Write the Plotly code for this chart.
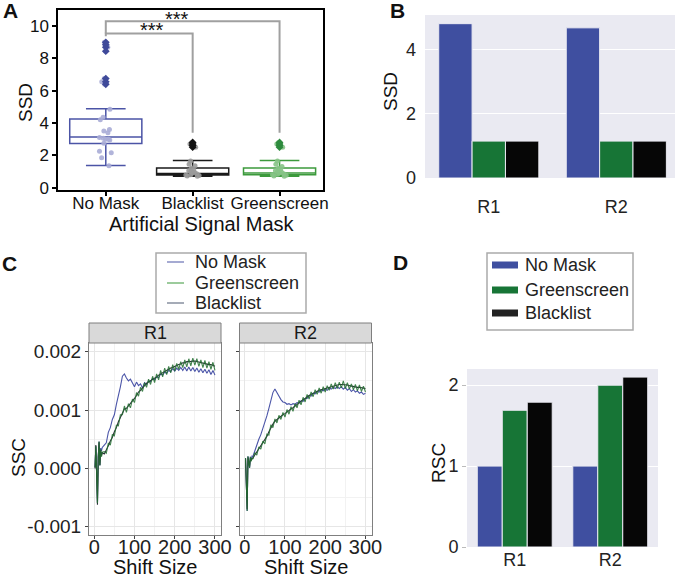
import numpy as np
import plotly.graph_objects as go

FONT = "Liberation Sans, Arial, sans-serif"
W, H = 675, 580

# ---------------- Panel A data ----------------
A_CATS = ["No Mask", "Blacklist", "Greenscreen"]
BOX_Q1 = [2.73, 0.78, 0.80]
BOX_MED = [3.14, 0.87, 0.90]
BOX_Q3 = [4.25, 1.22, 1.22]
BOX_LO = [1.37, 0.70, 0.70]
BOX_HI = [4.89, 1.68, 1.68]
NOMASK_PTS = [1.35, 1.85, 2.15, 2.25, 2.75, 2.95, 3.0, 3.0, 3.05, 3.1, 3.4, 3.5, 3.6,
              4.2, 4.35, 4.85, 6.4, 6.55, 6.75, 8.45, 8.7, 8.85, 9.0]
BL_PTS = [0.7, 0.72, 0.75, 0.78, 0.8, 0.85, 0.9, 0.95, 1.0, 1.05, 1.1, 1.2, 1.35, 1.45,
          1.65, 2.5, 2.6, 2.7, 2.8]
GS_PTS = [0.7, 0.72, 0.76, 0.8, 0.82, 0.86, 0.9, 0.95, 1.0, 1.05, 1.12, 1.2, 1.3, 1.45,
          1.65, 2.5, 2.6, 2.7, 2.8]
NOMASK_OUT = [6.4, 6.55, 6.75, 8.45, 8.7, 8.85, 9.0]
BL_OUT = [2.5, 2.6, 2.7, 2.8]
GS_OUT = [2.5, 2.6, 2.7, 2.8]
SIG_INNER_Y = [9.38, 9.55, 9.55, 3.4]
SIG_OUTER_Y = [9.55, 10.31, 10.31, 3.4]

# ---------------- Panel B / D data ----------------
REPS = ["R1", "R2"]
SSD_NOMASK = [4.81, 4.68]
SSD_GREEN = [1.15, 1.15]
SSD_BLACK = [1.15, 1.15]
RSC_NOMASK = [1.0, 1.0]
RSC_GREEN = [1.69, 2.0]
RSC_BLACK = [1.79, 2.10]

# ---------------- Panel C data (SSC in units of 1e-3) ----------------
SHIFT = [2, 4, 6, 8, 10, 12, 14, 16, 18, 20, 25, 30, 35, 40, 45, 50, 55, 60, 65, 70, 75, 80,
         85, 90, 95, 100, 105, 110, 115, 120, 125, 130, 135, 140, 145, 150, 155, 160, 165,
         170, 175, 180, 185, 190, 195, 200, 205, 210, 215, 220, 225, 230, 235, 240, 245,
         250, 255, 260, 265, 270, 275, 280, 285, 290, 295, 300]

R1_GREEN = [0.02, 0.38, -0.10, -0.59, 0.20, 0.46, 0.05, 0.33, 0.20, 0.28,
            0.29, 0.26, 0.43, 0.40, 0.58, 0.56, 0.74, 0.73, 0.92, 0.92, 1.07, 0.96,
            1.11, 1.04, 1.19, 1.13, 1.30, 1.24, 1.39, 1.32, 1.47, 1.39, 1.53, 1.44,
            1.58, 1.47, 1.62, 1.52, 1.68, 1.57, 1.72, 1.61, 1.75, 1.64, 1.78, 1.67,
            1.80, 1.70, 1.83, 1.73, 1.86, 1.74, 1.88, 1.76, 1.89, 1.77, 1.88, 1.75,
            1.86, 1.73, 1.85, 1.72, 1.83, 1.70, 1.82, 1.68]
R1_BLACK = [0.00, 0.40, -0.12, -0.62, 0.18, 0.45, 0.06, 0.31, 0.22, 0.27,
            0.25, 0.31, 0.39, 0.47, 0.53, 0.63, 0.70, 0.80, 0.88, 0.97, 1.02, 1.03,
            1.07, 1.11, 1.15, 1.20, 1.25, 1.31, 1.34, 1.39, 1.42, 1.46, 1.48, 1.51,
            1.53, 1.55, 1.57, 1.60, 1.62, 1.65, 1.67, 1.69, 1.70, 1.72, 1.73, 1.75,
            1.76, 1.78, 1.79, 1.81, 1.81, 1.83, 1.83, 1.84, 1.84, 1.84, 1.83, 1.83,
            1.81, 1.81, 1.80, 1.79, 1.78, 1.78, 1.76, 1.75]
R1_NOMASK = [0.02, 0.38, -0.10, -0.59, 0.20, 0.46, 0.05, 0.35, 0.30, 0.36,
             0.40, 0.44, 0.62, 0.70, 0.84, 0.92, 1.10, 1.24, 1.40, 1.58, 1.62, 1.55,
             1.50, 1.53, 1.45, 1.40, 1.48, 1.42, 1.45, 1.38, 1.47, 1.44, 1.50, 1.49,
             1.54, 1.52, 1.57, 1.56, 1.62, 1.60, 1.65, 1.63, 1.68, 1.66, 1.71, 1.67,
             1.72, 1.68, 1.73, 1.68, 1.74, 1.67, 1.74, 1.67, 1.73, 1.66, 1.72, 1.65,
             1.71, 1.64, 1.70, 1.63, 1.69, 1.61, 1.68, 1.60]

R2_GREEN = [0.18, -0.30, -0.73, 0.21, 0.10, 0.01, 0.20, 0.12, 0.18, 0.16,
            0.27, 0.23, 0.37, 0.33, 0.47, 0.42, 0.59, 0.57, 0.75, 0.70, 0.85, 0.78,
            0.91, 0.84, 0.96, 0.88, 1.01, 0.93, 1.06, 0.98, 1.11, 1.04, 1.17, 1.09,
            1.22, 1.14, 1.27, 1.19, 1.31, 1.23, 1.35, 1.27, 1.38, 1.29, 1.40, 1.31,
            1.42, 1.34, 1.45, 1.36, 1.47, 1.37, 1.48, 1.38, 1.50, 1.37, 1.47, 1.36,
            1.45, 1.35, 1.44, 1.33, 1.43, 1.32, 1.41, 1.31]
R2_BLACK = [0.16, -0.28, -0.70, 0.19, 0.12, 0.03, 0.18, 0.14, 0.17, 0.17,
            0.23, 0.28, 0.33, 0.39, 0.43, 0.48, 0.55, 0.63, 0.71, 0.76, 0.81, 0.84,
            0.87, 0.90, 0.92, 0.94, 0.97, 0.99, 1.02, 1.04, 1.07, 1.10, 1.13, 1.15,
            1.18, 1.20, 1.23, 1.25, 1.27, 1.29, 1.31, 1.33, 1.34, 1.35, 1.36, 1.37,
            1.38, 1.40, 1.41, 1.42, 1.43, 1.43, 1.44, 1.44, 1.44, 1.43, 1.43, 1.42,
            1.41, 1.41, 1.40, 1.39, 1.39, 1.38, 1.37, 1.37]
R2_NOMASK = [0.18, -0.30, -0.73, 0.21, 0.10, 0.01, 0.20, 0.14, 0.21, 0.20,
             0.30, 0.42, 0.50, 0.58, 0.68, 0.78, 0.90, 1.03, 1.16, 1.30, 1.36, 1.30,
             1.22, 1.18, 1.14, 1.13, 1.10, 1.11, 1.09, 1.11, 1.10, 1.13, 1.12, 1.16,
             1.15, 1.20, 1.20, 1.25, 1.24, 1.29, 1.28, 1.32, 1.31, 1.35, 1.33, 1.36,
             1.34, 1.38, 1.36, 1.39, 1.37, 1.40, 1.37, 1.40, 1.36, 1.39, 1.34, 1.37,
             1.32, 1.35, 1.31, 1.33, 1.29, 1.31, 1.27, 1.29]

SSC_SCALE = 1e-3

LEGEND_NAMES = ["No Mask", "Greenscreen", "Blacklist"]

# ---------------- colours ----------------
C_BLUE = "#3f4fa0"
C_GREEN = "#177536"
C_BLACK = "#060606"
A_LINE = {"No Mask": "#4b54a6", "Blacklist": "#1a1a1a", "Greenscreen": "#3c9a3c"}
A_PTS = {"No Mask": "#a9acd6", "Blacklist": "#9a9a9a", "Greenscreen": "#86c386"}
A_OUT = {"No Mask": "#3f4a9a", "Blacklist": "#111111", "Greenscreen": "#2e8b3e"}


def px(x):
    return x / W


def py(y):
    return 1 - y / H


fig = go.Figure()

# ---------------- Panel A ----------------
pts_map = {"No Mask": NOMASK_PTS, "Blacklist": BL_PTS, "Greenscreen": GS_PTS}
out_map = {"No Mask": NOMASK_OUT, "Blacklist": BL_OUT, "Greenscreen": GS_OUT}
for i, cat in enumerate(A_CATS):
    fig.add_trace(go.Box(
        x=[cat], q1=[BOX_Q1[i]], median=[BOX_MED[i]], q3=[BOX_Q3[i]],
        lowerfence=[BOX_LO[i]], upperfence=[BOX_HI[i]],
        boxpoints=False, fillcolor="white", width=0.83, whiskerwidth=0.55,
        line=dict(color=A_LINE[cat], width=1.5),
        xaxis="x", yaxis="y", showlegend=False, hoverinfo="skip"))
for cat in A_CATS:
    vals = pts_map[cat]
    fig.add_trace(go.Box(
        x=[cat] * len(vals), y=vals, boxpoints="all", jitter=0.25, pointpos=0,
        width=0.83, fillcolor="rgba(0,0,0,0)",
        line=dict(color="rgba(0,0,0,0)", width=0),
        marker=dict(color=A_PTS[cat], size=5, opacity=0.9),
        xaxis="x", yaxis="y", showlegend=False, hoverinfo="skip"))
for cat in A_CATS:
    vals = out_map[cat]
    fig.add_trace(go.Scatter(
        x=[cat] * len(vals), y=vals, mode="markers",
        marker=dict(symbol="diamond", size=6, color=A_OUT[cat]),
        xaxis="x", yaxis="y", showlegend=False, hoverinfo="skip"))
fig.add_trace(go.Scatter(
    x=["No Mask", "No Mask", "Blacklist", "Blacklist"], y=SIG_INNER_Y, mode="lines",
    line=dict(color="#a0a0a0", width=2), xaxis="x", yaxis="y", showlegend=False))
fig.add_trace(go.Scatter(
    x=["No Mask", "No Mask", "Greenscreen", "Greenscreen"], y=SIG_OUTER_Y, mode="lines",
    line=dict(color="#a0a0a0", width=2), xaxis="x", yaxis="y", showlegend=False))

# ---------------- Panel B ----------------
for vals, col in [(SSD_NOMASK, C_BLUE), (SSD_GREEN, C_GREEN), (SSD_BLACK, C_BLACK)]:
    fig.add_trace(go.Bar(x=REPS, y=vals, marker=dict(color=col, line=dict(color="#eaeaf2", width=1)),
                         xaxis="x2", yaxis="y2", showlegend=False))

# ---------------- Panel C ----------------
shift = np.array(SHIFT)
series = [
    ("No Mask", "#4b55a8", R1_NOMASK, R2_NOMASK),
    ("Blacklist", "#2b3038", R1_BLACK, R2_BLACK),
    ("Greenscreen", "rgba(34,110,48,0.85)", R1_GREEN, R2_GREEN),
]
for name, col, r1, r2 in series:
    fig.add_trace(go.Scatter(x=shift, y=np.array(r1) * SSC_SCALE, mode="lines", name=name,
                             line=dict(color=col, width=1.1), xaxis="x3", yaxis="y3",
                             showlegend=False))
    fig.add_trace(go.Scatter(x=shift, y=np.array(r2) * SSC_SCALE, mode="lines", name=name,
                             line=dict(color=col, width=1.1), xaxis="x4", yaxis="y4",
                             showlegend=False))

# ---------------- Panel D ----------------
for vals, col in [(RSC_NOMASK, C_BLUE), (RSC_GREEN, C_GREEN), (RSC_BLACK, C_BLACK)]:
    fig.add_trace(go.Bar(x=REPS, y=vals, marker=dict(color=col, line=dict(color="#eaeaf2", width=1)),
                         xaxis="x5", yaxis="y5", showlegend=False))

# ---------------- Layout ----------------
tickA = dict(family=FONT, size=17, color="#111")
c_grid = dict(showgrid=True, gridcolor="#e6e6e6", gridwidth=1)
lay = dict(
    width=W, height=H, margin=dict(l=0, r=0, t=0, b=0, pad=0, autoexpand=False),
    paper_bgcolor="white", plot_bgcolor="white",
    font=dict(family=FONT, color="#111"), showlegend=False,
    barmode="group", bargap=0.215, bargroupgap=0, boxmode="overlay",
    xaxis=dict(domain=[px(58), px(323)], type="category", categoryorder="array",
               categoryarray=A_CATS, range=[-0.55, 2.5], showline=True, mirror=True,
               linecolor="black", linewidth=1.5, ticks="outside", ticklen=4, tickwidth=1.5,
               tickcolor="black", tickangle=0, automargin=False, ticklabelstandoff=-7,
               tickfont=dict(family=FONT, size=17, color="#111"),
               showgrid=False, zeroline=False, anchor="y"),
    yaxis=dict(domain=[py(190), py(10)], range=[-0.15, 11.0], tickvals=[0, 2, 4, 6, 8, 10],
               showline=True, mirror=True, linecolor="black", linewidth=1.5, ticks="outside",
               ticklen=4, tickwidth=1.5, tickcolor="black", tickfont=tickA, automargin=False,
               showgrid=False, zeroline=False, anchor="x"),
    xaxis2=dict(domain=[px(425), 1.0], range=[-0.5, 1.46], showgrid=False, ticks="",
                showline=False, zeroline=False, tickfont=dict(family=FONT, size=18, color="#222"),
                ticklabelstandoff=16, tickangle=0, automargin=False, anchor="y2"),
    yaxis2=dict(domain=[py(178), py(15)], range=[0, 5.08], tickvals=[0, 2, 4],
                showgrid=True, gridcolor="white", gridwidth=1.3, zeroline=False, ticks="",
                showline=False, tickfont=dict(family=FONT, size=18, color="#222"),
                ticklabelstandoff=8, automargin=False, anchor="x2"),
    xaxis3=dict(domain=[px(89), px(221)], range=[-13, 315], tickvals=[0, 100, 200, 300],
                showline=True, mirror=True, linecolor="#7f7f7f", linewidth=1,
                ticks="outside", ticklen=3, tickcolor="#444", tickangle=0, automargin=False,
                ticklabelstandoff=-9,
                tickfont=dict(family=FONT, size=20, color="#222"),
                minor=dict(dtick=50, tick0=0, showgrid=True, gridcolor="#f2f2f2", ticks=""),
                zeroline=False, anchor="y3", **c_grid),
    yaxis3=dict(domain=[py(535), py(343)], range=[-0.00114, 0.00215],
                tickvals=[-0.001, 0, 0.001, 0.002], ticktext=["-0.001", "0.000", "0.001", "0.002"],
                showline=True, mirror=True, linecolor="#7f7f7f", linewidth=1,
                ticks="outside", ticklen=3, tickcolor="#444", automargin=False,
                tickfont=dict(family=FONT, size=19, color="#222"),
                minor=dict(dtick=0.0005, tick0=0, showgrid=True, gridcolor="#f2f2f2", ticks=""),
                zeroline=False, anchor="x3", **c_grid),
    xaxis4=dict(domain=[px(239.5), px(371.5)], range=[-13, 315], tickvals=[0, 100, 200, 300],
                showline=True, mirror=True, linecolor="#7f7f7f", linewidth=1,
                ticks="outside", ticklen=3, tickcolor="#444", tickangle=0, automargin=False,
                ticklabelstandoff=-9,
                tickfont=dict(family=FONT, size=20, color="#222"),
                minor=dict(dtick=50, tick0=0, showgrid=True, gridcolor="#f2f2f2", ticks=""),
                zeroline=False, anchor="y4", **c_grid),
    yaxis4=dict(domain=[py(535), py(343)], range=[-0.00114, 0.00215],
                tickvals=[-0.001, 0, 0.001, 0.002], showticklabels=False,
                showline=True, mirror=True, linecolor="#7f7f7f", linewidth=1,
                ticks="outside", ticklen=3, tickcolor="#444", automargin=False,
                minor=dict(dtick=0.0005, tick0=0, showgrid=True, gridcolor="#f2f2f2", ticks=""),
                zeroline=False, anchor="x4", **c_grid),
    xaxis5=dict(domain=[px(467), px(658)], range=[-0.5, 1.5], showgrid=False, ticks="",
                showline=False, zeroline=False, tickfont=dict(family=FONT, size=18, color="#222"),
                ticklabelstandoff=0, tickangle=0, automargin=False, anchor="y5"),
    yaxis5=dict(domain=[py(547), py(369)], range=[0, 2.2], tickvals=[0, 1, 2],
                showgrid=True, gridcolor="white", gridwidth=1.3, zeroline=False,
                ticks="outside", ticklen=4, tickcolor="#bbbbbb", showline=False, automargin=False,
                tickfont=dict(family=FONT, size=18, color="#222"), anchor="x5"),
)
fig.update_layout(**lay)

shapes = [
    dict(type="rect", xref="x2 domain", yref="y2 domain", x0=0, x1=1, y0=0, y1=1,
         fillcolor="#eaeaf2", line=dict(width=0), layer="below"),
    dict(type="rect", xref="x5 domain", yref="y5 domain", x0=0, x1=1, y0=0, y1=1,
         fillcolor="#eaeaf2", line=dict(width=0), layer="below"),
    dict(type="rect", xref="paper", yref="paper", x0=px(89), x1=px(221), y0=py(343), y1=py(323),
         fillcolor="#d9d9d9", line=dict(color="#7f7f7f", width=1)),
    dict(type="rect", xref="paper", yref="paper", x0=px(239.5), x1=px(371.5), y0=py(343), y1=py(323),
         fillcolor="#d9d9d9", line=dict(color="#7f7f7f", width=1)),
    # legend boxes (C and D)
    dict(type="rect", xref="paper", yref="paper", x0=px(156), x1=px(306), y0=py(313), y1=py(253),
         fillcolor="white", line=dict(color="#aaaaaa", width=1.5)),
    dict(type="rect", xref="paper", yref="paper", x0=px(487), x1=px(633), y0=py(330), y1=py(253),
         fillcolor="white", line=dict(color="#aaaaaa", width=1.5)),
]

# legend keys
c_key_cols = ["#6a72b4", "#5aa95a", "#6a7488"]
c_rows = [262, 283, 303]
d_key_cols = [C_BLUE, C_GREEN, "#222222"]
d_rows = [265, 290, 313]
for col, yy in zip(c_key_cols, c_rows):
    shapes.append(dict(type="line", xref="paper", yref="paper", x0=px(167), x1=px(184),
                       y0=py(yy), y1=py(yy), line=dict(color=col, width=1.2)))
for col, yy in zip(d_key_cols, d_rows):
    shapes.append(dict(type="rect", xref="paper", yref="paper", x0=px(492), x1=px(518),
                       y0=py(yy + 3.5), y1=py(yy - 3.5), fillcolor=col, line=dict(width=0)))
fig.update_layout(shapes=shapes)


def ann(text, x, y, size, angle=0, bold=False, color="#111", xanchor="center"):
    return dict(text=("<b>%s</b>" % text) if bold else text, x=px(x), y=py(y),
                xref="paper", yref="paper", xanchor=xanchor, yanchor="middle",
                showarrow=False, textangle=angle, font=dict(family=FONT, size=size, color=color))


annotations = [
    ann("A", 10, 11, 21, bold=True),
    ann("B", 397, 11, 21, bold=True),
    ann("C", 9, 263, 21, bold=True),
    ann("D", 400, 262, 21, bold=True),
    ann("Artificial Signal Mask", 202, 224, 20),
    ann("SSD", 26, 103, 19, angle=-90),
    ann("SSD", 391, 92, 19, angle=-90),
    ann("SSC", 18, 458, 19, angle=-90),
    ann("Shift Size", 155, 567, 20),
    ann("Shift Size", 305.5, 567, 20),
    ann("R1", 155, 333, 18, color="#1a1a1a"),
    ann("R2", 305.5, 333, 18, color="#1a1a1a"),
    ann("RSC", 438, 463, 19, angle=-90),
    dict(text="***", x=0.53, y=9.75, xref="x", yref="y", showarrow=False,
         xanchor="center", yanchor="middle", font=dict(family=FONT, size=20, color="#111")),
    dict(text="***", x=0.82, y=10.45, xref="x", yref="y", showarrow=False,
         xanchor="center", yanchor="middle", font=dict(family=FONT, size=20, color="#111")),
]
for name, yy in zip(LEGEND_NAMES, c_rows):
    annotations.append(ann(name, 193, yy, 18, color="#222", xanchor="left"))
for name, yy in zip(LEGEND_NAMES, d_rows):
    annotations.append(ann(name, 523, yy, 18, color="#222", xanchor="left"))
fig.update_layout(annotations=annotations)

fig.write_html("out.html", config={"displayModeBar": False},
               post_script="document.body.style.margin='0';document.body.style.overflow='hidden';")
